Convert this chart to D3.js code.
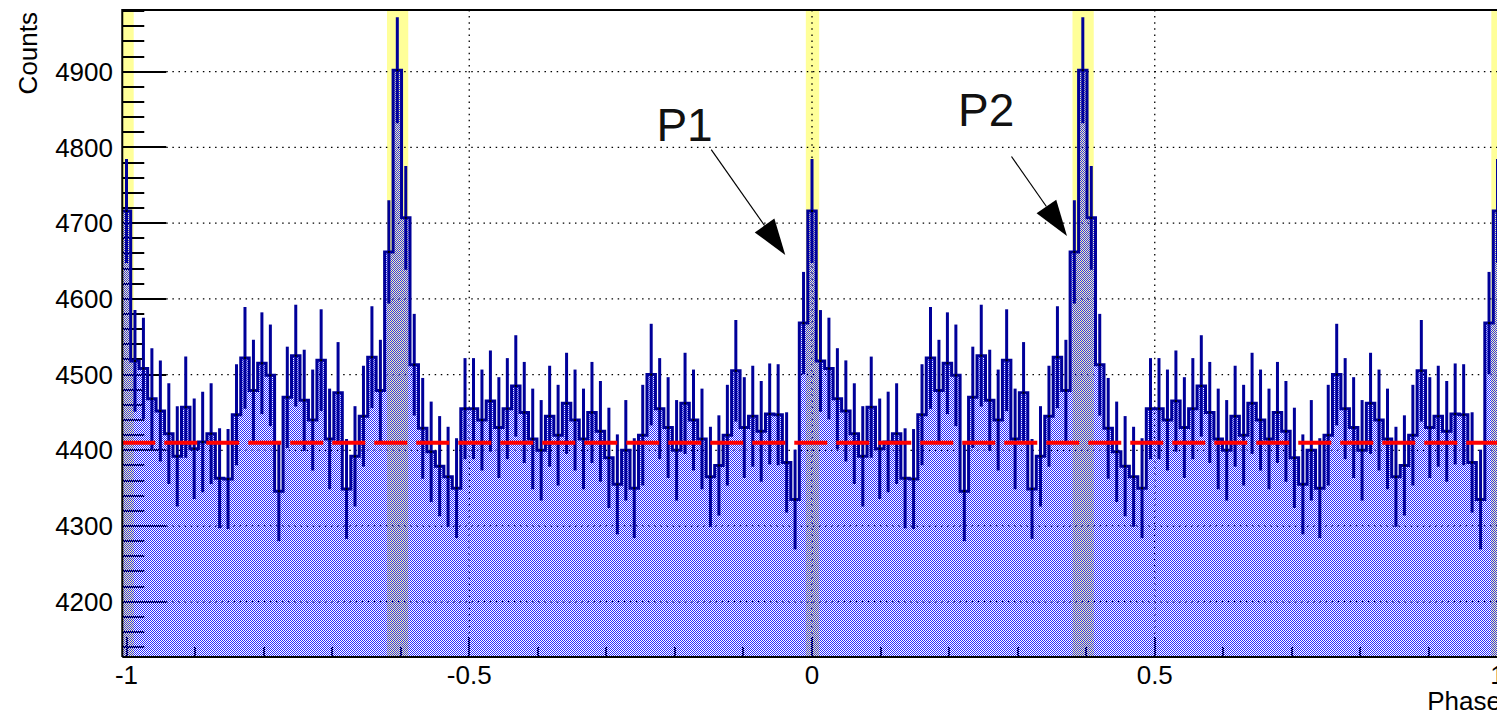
<!DOCTYPE html>
<html><head><meta charset="utf-8">
<script src="https://cdn.jsdelivr.net/npm/d3@7"></script>
<style>
html,body{margin:0;padding:0;overflow:hidden;background:#fff;}
svg{display:block;font-family:"Liberation Sans",Arial,sans-serif;}
</style></head><body>
<svg id="chart" width="1560" height="714"></svg>
<script>
// Folded light curve: one cycle of 81 phase bins (centred on k/81), drawn over two cycles
const binsPerCycle = 81;
const countsPerCycle = [
4716,4518,4508,4468,4452,4422,4392,4457,4402,4411,
4422,4363,4362,4447,4522,4479,4515,4499,4346,4470,
4525,4466,4440,4519,4415,4476,4349,4392,4445,4523,
4479,4662,4902,4707,4513,4429,4398,4379,4365,4350,
4455,4455,4440,4465,4430,4455,4485,4450,4415,4400,
4445,4420,4462,4440,4415,4450,4425,4390,4355,4400,
4350,4420,4500,4455,4430,4400,4462,4440,4415,4365,
4380,4420,4505,4430,4445,4425,4448,4447,4384,4335,
4568
];
const shownCycles = [-1, 0, 1];
const yDomain = [4127, 4981.5];
const yMajorTicks = [4200, 4300, 4400, 4500, 4600, 4700, 4800, 4900];
const yMinorStep = 20;
const xMajorTicks = [-1, -0.5, 0, 0.5, 1];
const xTickLabels = ["-1", "-0.5", "0", "0.5", "1"];
const xMinorTicks = [-0.9, -0.8, -0.7, -0.6, -0.4, -0.3, -0.2, -0.1, 0.1, 0.2, 0.3, 0.4, 0.6, 0.7, 0.8, 0.9];
// on-pulse windows (phase within one cycle)
const signalRegions = [[-0.009, 0.0105], [0.380, 0.411]];
const backgroundLevel = 4410;
const peakLabels = ["P1", "P2"];
// label anchor, arrow start, arrow tip in (phase, counts)
const peakLabelAt = [[-0.227, 4809], [0.213, 4828]];
const arrowFrom = [[-0.147, 4797], [0.291, 4788]];
const arrowTo = [[-0.039, 4658], [0.372, 4683]];

const svg = d3.select("#chart");
const T = 10, B = 657;
const halfBin = 0.5 / binsPerCycle;
const x = d3.scaleLinear().domain([-1, 1]).range([126.5, 1497.5]);
const y = d3.scaleLinear().domain(yDomain).range([B, T]);
const L = x(-1 - halfBin), R = x(1 + halfBin);

const defs = svg.append("defs");
defs.append("clipPath").attr("id", "plotClip").append("rect")
  .attr("x", L).attr("y", T).attr("width", R - L).attr("height", B - T);
const pat = defs.append("pattern").attr("id", "dots").attr("patternUnits", "userSpaceOnUse")
  .attr("width", 2).attr("height", 2);
pat.append("rect").attr("x", 0).attr("y", 0).attr("width", 1).attr("height", 1).attr("fill", "#2a2aff");
pat.append("rect").attr("x", 1).attr("y", 1).attr("width", 1).attr("height", 1).attr("fill", "#2a2aff");

const nBins = 2 * binsPerCycle + 1;
const bins = d3.range(nBins).map(k => {
  const c = countsPerCycle[k % binsPerCycle];
  const mid = -1 + k / binsPerCycle;
  return { lo: mid - halfBin, hi: mid + halfBin, mid, c, err: Math.sqrt(c) };
});

const plot = svg.append("g").attr("clip-path", "url(#plotClip)");

// on-pulse windows
const bands = shownCycles.flatMap(o => signalRegions.map(r => [r[0] + o, r[1] + o]));
plot.selectAll("rect.sig").data(bands).join("rect").attr("class", "sig")
  .attr("x", d => x(d[0])).attr("width", d => x(d[1]) - x(d[0]))
  .attr("y", T).attr("height", B - T).attr("fill", "#ffff99");

// grid and axis ticks sit under the dotted fill
const grid = plot.append("g").attr("stroke", "#000").attr("stroke-width", 1.3).attr("stroke-dasharray", "1.5,4.6");
grid.selectAll("line.gy").data(yMajorTicks).join("line").attr("x1", L + 44).attr("x2", R)
  .attr("y1", d => y(d)).attr("y2", d => y(d));
grid.selectAll("line.gx").data(xMajorTicks.slice(1, -1)).join("line").attr("y1", T).attr("y2", B)
  .attr("x1", d => x(d)).attr("x2", d => x(d));

const ticks = plot.append("g").attr("stroke", "#000").attr("stroke-width", 2);
const yMinor = d3.range(Math.ceil(yDomain[0] / yMinorStep) * yMinorStep, yDomain[1], yMinorStep);
ticks.selectAll("line.yt").data(yMinor).join("line")
  .attr("x1", L).attr("x2", d => L + (yMajorTicks.includes(d) ? 44 : 22))
  .attr("y1", d => Math.round(y(d))).attr("y2", d => Math.round(y(d)));
ticks.selectAll("line.xt").data(xMajorTicks).join("line")
  .attr("x1", d => Math.round(x(d))).attr("x2", d => Math.round(x(d))).attr("y1", B).attr("y2", B - 20);
ticks.selectAll("line.xm").data(xMinorTicks).join("line")
  .attr("x1", d => Math.round(x(d))).attr("x2", d => Math.round(x(d))).attr("y1", B).attr("y2", B - 10);

// histogram fill
const stepPts = bins.map(b => [b.lo, b.c]).concat([[bins[nBins - 1].hi, bins[nBins - 1].c]]);
const area = d3.area().curve(d3.curveStepAfter).x(d => x(d[0])).y0(B + 5).y1(d => y(d[1]));
plot.append("path").attr("d", area(stepPts)).attr("fill", "url(#dots)");

// histogram outline and error bars
const line = d3.line().curve(d3.curveStepAfter).x(d => x(d[0])).y(d => y(d[1]));
plot.append("path").attr("d", line(stepPts)).attr("fill", "none").attr("stroke", "#000099").attr("stroke-width", 3);
plot.selectAll("line.err").data(bins).join("line").attr("class", "err")
  .attr("x1", d => x(d.mid)).attr("x2", d => x(d.mid))
  .attr("y1", d => y(d.c - d.err)).attr("y2", d => y(d.c + d.err))
  .attr("stroke", "#000099").attr("stroke-width", 3);
plot.selectAll("rect.mk").data(bins).join("rect").attr("class", "mk")
  .attr("x", d => x(d.mid) - 1).attr("y", d => y(d.c) - 1).attr("width", 2).attr("height", 2).attr("fill", "#000");

// background level
plot.append("line").attr("x1", L).attr("x2", R)
  .attr("y1", y(backgroundLevel)).attr("y2", y(backgroundLevel))
  .attr("stroke", "#ff0000").attr("stroke-width", 4).attr("stroke-dasharray", "33,9");

// frame
svg.append("path").attr("d", `M${L},${B}V${T}H${R}`).attr("fill", "none").attr("stroke", "#000").attr("stroke-width", 2);
svg.append("line").attr("x1", L).attr("x2", R).attr("y1", B).attr("y2", B).attr("stroke", "#000").attr("stroke-width", 2);

// axis labels
svg.selectAll("text.yl").data(yMajorTicks).join("text").attr("class", "yl")
  .attr("x", 113).attr("y", d => y(d)).attr("dy", "0.35em").attr("text-anchor", "end")
  .attr("font-size", 26).text(d => d);
svg.selectAll("text.xl").data(xMajorTicks).join("text").attr("class", "xl")
  .attr("x", d => x(d)).attr("y", 684).attr("text-anchor", "middle")
  .attr("font-size", 26).text((d, i) => xTickLabels[i]);
svg.append("text").attr("x", 1501).attr("y", 710).attr("text-anchor", "end").attr("font-size", 26).text("Phase");
svg.append("text").attr("transform", "translate(37,12) rotate(-90)").attr("text-anchor", "end")
  .attr("font-size", 26).text("Counts");

// peak annotations
const ann = svg.append("g");
peakLabels.forEach((lab, i) => {
  ann.append("text").attr("x", x(peakLabelAt[i][0])).attr("y", y(peakLabelAt[i][1]))
    .attr("font-size", 46).attr("fill", "#111").text(lab);
  const [x0, y0] = [x(arrowFrom[i][0]), y(arrowFrom[i][1])];
  const [x1, y1] = [x(arrowTo[i][0]), y(arrowTo[i][1])];
  const ang = Math.atan2(y1 - y0, x1 - x0);
  const len = 36, half = 12;
  const bx = x1 - len * Math.cos(ang), by = y1 - len * Math.sin(ang);
  ann.append("line").attr("x1", x0).attr("y1", y0).attr("x2", bx).attr("y2", by).attr("stroke", "#000").attr("stroke-width", 1.2);
  const px = -Math.sin(ang) * half, py = Math.cos(ang) * half;
  ann.append("path").attr("d", `M${x1},${y1}L${bx + px},${by + py}L${bx - px},${by - py}Z`).attr("fill", "#000");
});
</script></body></html>
